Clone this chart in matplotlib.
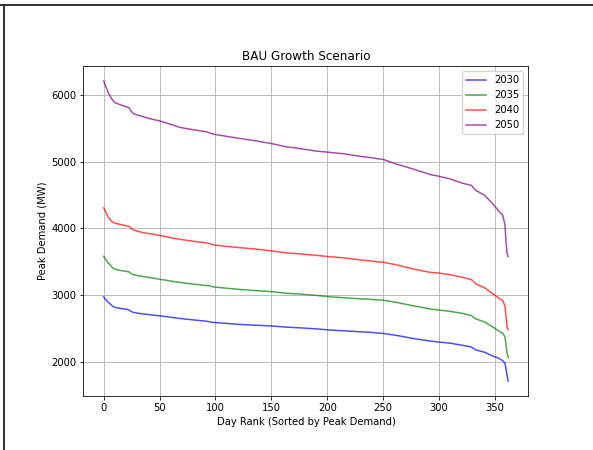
import matplotlib
matplotlib.use("Agg")
import matplotlib.pyplot as plt
from matplotlib.lines import Line2D

days = [0, 2, 4, 6, 8, 10, 13, 16, 20, 23, 24, 26, 30, 35, 40, 50, 60, 68, 77, 85,
        92, 95, 98, 110, 122, 137, 150, 163, 175, 190, 200, 215, 230, 238, 245, 250,
        262, 277, 292, 300, 310, 321, 329, 333, 341, 348, 353, 357, 359, 360, 361, 362]

d2030 = [2975, 2930, 2895, 2866, 2835, 2818, 2808, 2800, 2790, 2778, 2762, 2745, 2732, 2720,
         2710, 2692, 2670, 2652, 2636, 2622, 2610, 2602, 2592, 2578, 2562, 2550, 2540, 2522,
         2512, 2496, 2482, 2466, 2452, 2446, 2434, 2428, 2398, 2352, 2314, 2298, 2282, 2250,
         2225, 2180, 2145, 2090, 2060, 2020, 1985, 1900, 1790, 1715]

d2035 = [3582, 3530, 3485, 3450, 3410, 3390, 3378, 3368, 3358, 3348, 3330, 3310, 3295, 3280,
         3268, 3240, 3212, 3192, 3172, 3158, 3145, 3138, 3125, 3105, 3086, 3068, 3054, 3030,
         3018, 2998, 2980, 2962, 2945, 2940, 2930, 2926, 2892, 2842, 2795, 2778, 2758, 2728,
         2695, 2645, 2600, 2525, 2470, 2430, 2380, 2260, 2130, 2065]

d2040 = [4308, 4240, 4170, 4130, 4095, 4080, 4068, 4055, 4042, 4030, 4005, 3982, 3960, 3938,
         3925, 3896, 3862, 3838, 3816, 3798, 3782, 3772, 3755, 3732, 3712, 3690, 3664, 3635,
         3620, 3598, 3580, 3560, 3528, 3515, 3500, 3495, 3455, 3392, 3343, 3332, 3308, 3268,
         3235, 3170, 3110, 3025, 2962, 2920, 2840, 2690, 2520, 2482]

d2050 = [6209, 6120, 6040, 5975, 5920, 5886, 5865, 5846, 5825, 5805, 5770, 5728, 5700, 5675,
         5650, 5612, 5560, 5515, 5488, 5466, 5448, 5430, 5413, 5380, 5348, 5310, 5272, 5225,
         5198, 5160, 5144, 5118, 5080, 5064, 5045, 5035, 4965, 4890, 4808, 4782, 4742, 4678,
         4645, 4570, 4495, 4372, 4270, 4198, 4060, 3800, 3620, 3578]

series_labels = ["2030", "2035", "2040", "2050"]
series_colors = ["blue", "green", "red", "purple"]

s = 0.72
plt.rcParams["font.size"] = 10 * s

fig = plt.figure(figsize=(5.93, 4.5), dpi=100)
ax = fig.add_axes([0.1408, 0.12, 0.7504, 0.7333])

for vals, lab, col in zip([d2030, d2035, d2040, d2050], series_labels, series_colors):
    ax.plot(days, vals, color=col, alpha=0.7, label=lab, linewidth=1.5 * s)

ax.set_title("BAU Growth Scenario", fontsize=12 * s, pad=6 * s)
ax.set_xlabel("Day Rank (Sorted by Peak Demand)", labelpad=4 * s)
ax.set_ylabel("Peak Demand (MW)", labelpad=4 * s)
ax.set_xticks([0, 50, 100, 150, 200, 250, 300, 350])
ax.set_yticks([2000, 3000, 4000, 5000, 6000])
ax.grid(True, linewidth=0.8 * s)
ax.legend(loc="upper right")
for sp in ax.spines.values():
    sp.set_linewidth(0.8 * s)
ax.tick_params(width=0.8 * s, length=3.5 * s, pad=3.5 * s)

# outer frame lines (top and left) present in the reference image
fig.add_artist(Line2D([0, 1], [1 - 5 / 450, 1 - 5 / 450], transform=fig.transFigure,
                      color="#222222", linewidth=1.3))
fig.add_artist(Line2D([3.5 / 593, 3.5 / 593], [0, 1 - 5 / 450], transform=fig.transFigure,
                      color="#222222", linewidth=1.3))

fig.savefig("out.png", dpi=100)
